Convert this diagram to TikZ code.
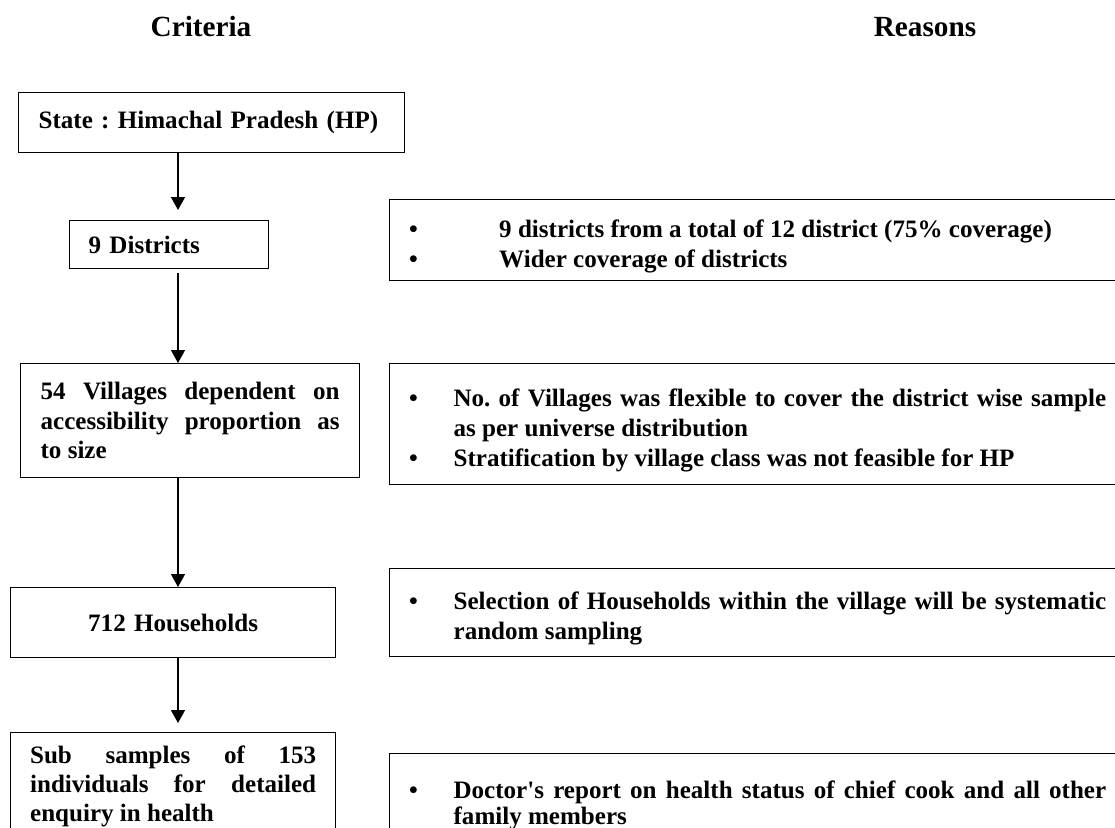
\documentclass[tikz,border=0pt]{standalone}
\usepackage{fontspec}
\setmainfont{Liberation Serif}[Ligatures=TeXOff]
\usetikzlibrary{arrows.meta}

% one pixel of the layout
\newdimen\unitpx \unitpx=0.479pt
\setlength{\parindent}{0pt}
\hyphenpenalty=10000 \exhyphenpenalty=10000
\frenchspacing

% bullet line with hanging indent
\newcommand{\bul}[2]{\par\hangindent=#1\hangafter=1\noindent\makebox[#1][l]{\textbullet}#2\par}

\tikzset{
  box/.style={draw, line width=0.6pt, rectangle, anchor=north west, inner ysep=0pt,
    font=\fontsize{12}{14}\selectfont\bfseries},
  reason/.style={box, inner xsep=19.6\unitpx, text width=697\unitpx, align=justify,
    font=\fontsize{12}{14.4}\selectfont\bfseries},
  flow/.style={line width=0.6pt, -{Triangle[width=6.7pt,length=6.2pt]}},
  head/.style={font=\fontsize{14}{16}\selectfont\bfseries}
}

\begin{document}
\begin{tikzpicture}[x=0.479pt, y=-0.479pt]

    \useasboundingbox (0,0) rectangle (1115,828);
    \clip (0,0) rectangle (1115,828);

    % Column headings
    \node[head] (crit) at (201,27) {Criteria};
    \node[head] (reas) at (925,27) {Reasons};

    % Criteria column
    \node[box, inner xsep=20\unitpx, text width=346\unitpx, align=left, minimum height=60\unitpx]
        (state) at (18,92) {State : Himachal Pradesh (HP)};
    \node[box, inner xsep=19\unitpx, text width=161\unitpx, align=left, minimum height=48\unitpx]
        (dist) at (69,220) {9 Districts};
    \node[box, inner xsep=20\unitpx, text width=299\unitpx, align=justify, minimum height=114\unitpx]
        (vill) at (20,363) {54 Villages dependent on accessibility proportion as to size};
    \node[box, inner xsep=20\unitpx, text width=285\unitpx, align=center, minimum height=70\unitpx]
        (hh) at (10,587) {712 Households};
    \node[box, inner xsep=19.5\unitpx, text width=286\unitpx, align=justify, minimum height=108\unitpx]
        (sub) at (10,732) {Sub samples of 153 individuals for detailed enquiry in health};

    % Reasons column (boxes run past the right and bottom edges)
    \node[reason, minimum height=81\unitpx] (whyDist) at (389,199)
        {\bul{90\unitpx}{9 districts from a total of 12 district (75\% coverage)}%
         \bul{90\unitpx}{Wider coverage of districts}};
    \node[reason, minimum height=121\unitpx] (whyVill) at (389,363)
        {\bul{44.4\unitpx}{No. of Villages was flexible to cover the district wise sample\linebreak as per universe distribution}%
         \bul{44.4\unitpx}{Stratification by village class was not feasible for HP}};
    \node[reason, minimum height=88\unitpx] (whyHh) at (389,568)
        {\bul{44.4\unitpx}{Selection of Households within the village will be systematic\linebreak random sampling}};
    \node[reason, minimum height=96\unitpx, font=\fontsize{12}{12.4}\selectfont\bfseries] (whySub) at (389,753)
        {\bul{44.4\unitpx}{Doctor's report on health status of chief cook and all other\linebreak family members}};

    % Flow arrows
    \coordinate (spine) at (178,0);
    \draw[flow, shorten >=4.8pt] (state.south -| spine) -- (dist.north -| spine);
    \draw[flow, shorten <=1.9pt] (dist.south -| spine) -- (vill.north -| spine);
    \draw[flow] (vill.south -| spine) -- (hh.north -| spine);
    \draw[flow, shorten >=4.3pt] (hh.south -| spine) -- (sub.north -| spine);

\end{tikzpicture}
\end{document}
